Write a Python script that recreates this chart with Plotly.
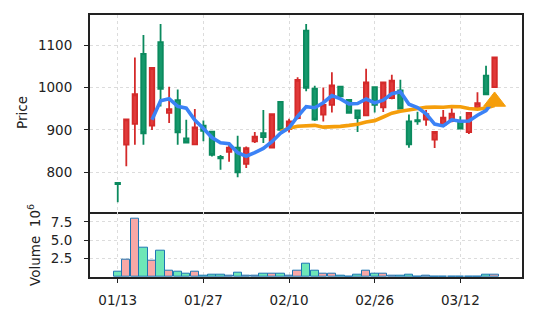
import plotly.graph_objects as go

# ---- data ----
tick_index = [0, 10, 20, 30, 40]
tick_labels = ['01/13', '01/27', '02/10', '02/26', '03/12']

opens = [775, 865, 914, 1079, 910, 1107, 940, 970, 880, 866,
         910, 896, 836, 848, 858, 820, 873, 892, 858, 966,
         902, 928, 1134, 997, 936, 959, 1002, 971, 946, 934,
         1001, 953, 975, 993, 920, 923, 924, 877, 912, 921,
         921, 895, 951, 1028, 1001]
highs = [775, 926, 1071, 1124, 1046, 1150, 1002, 995, 924, 949,
         922, 897, 841, 869, 886, 861, 895, 947, 938, 967,
         926, 1024, 1150, 1004, 1000, 1036, 1004, 972, 947, 1044,
         1003, 1013, 1030, 1018, 936, 943, 947, 896, 947, 951,
         932, 941, 989, 1051, 1072]
lows = [729, 814, 865, 865, 900, 955, 916, 865, 869, 866,
        873, 837, 806, 825, 788, 810, 869, 869, 856, 898,
        894, 925, 991, 921, 920, 941, 977, 938, 895, 932,
        941, 942, 972, 948, 858, 912, 910, 857, 910, 918,
        901, 890, 948, 983, 1000]
closes = [772, 925, 984, 892, 1046, 997, 949, 894, 870, 906,
          898, 841, 833, 858, 800, 857, 884, 883, 937, 900,
          920, 1018, 999, 924, 959, 1005, 979, 940, 928, 1012,
          959, 1012, 1016, 950, 866, 920, 937, 895, 929, 938,
          903, 940, 963, 984, 1071]
volume = [0.67, 2.4, 7.96, 4.0, 2.17, 3.59, 0.86, 0.67, 0.45, 0.67,
          0.15, 0.3, 0.3, 0.12, 0.58, 0.12, 0.12, 0.45, 0.45, 0.45,
          0.2, 0.86, 1.81, 0.86, 0.4, 0.4, 0.15, 0.05, 0.3, 0.86,
          0.4, 0.4, 0.12, 0.12, 0.3, 0.05, 0.15, 0.05, 0.04, 0.04,
          0.04, 0.04, 0.04, 0.3, 0.3]
ma5 = [None, None, None, None, 923.8, 968.8, 973.6, 955.6, 951.2, 923.2,
       903.4, 881.8, 869.6, 867.2, 846.0, 837.8, 846.4, 856.4, 872.2, 892.2,
       904.8, 931.6, 954.8, 952.2, 964.0, 981.0, 973.2, 961.4, 962.2, 972.8,
       963.6, 970.2, 985.4, 989.8, 960.6, 952.8, 937.8, 913.6, 909.4, 923.8,
       920.4, 921.0, 934.6, 945.6, 972.2]
ma20 = [None] * 19 + [896.3, 903.7, 908.4, 909.1, 910.7, 906.4, 906.8, 908.3, 910.6, 913.5,
                      918.8, 921.8, 930.4, 939.5, 944.1, 947.4, 950.6, 953.2, 953.8, 953.4,
                      955.3, 954.5, 950.6, 948.8, 951.8, 957.4]
marker_x = [44]
marker_y = [967]

x = list(range(len(closes)))

RED_LINE, RED_FILL = '#d42a2a', '#e03a3a'
GRN_LINE, GRN_FILL = '#0b8a5e', '#16996c'
VOL_RED, VOL_GRN = '#f9a8a6', '#6ee7b7'
FONT = dict(family='DejaVu Sans', size=13.5, color='#222')

fig = go.Figure()
fig.add_trace(go.Candlestick(
    x=x, open=opens, high=highs, low=lows, close=closes,
    increasing=dict(line=dict(color=RED_LINE, width=1.8), fillcolor=RED_FILL),
    decreasing=dict(line=dict(color=GRN_LINE, width=1.8), fillcolor=GRN_FILL),
    whiskerwidth=0, xaxis='x', yaxis='y', hoverinfo='skip'))
fig.add_trace(go.Scatter(x=x, y=ma20, mode='lines',
                         line=dict(color='#f59e0b', width=3.6),
                         xaxis='x', yaxis='y'))
fig.add_trace(go.Scatter(x=x, y=ma5, mode='lines',
                         line=dict(color='#3b82f6', width=3.6),
                         xaxis='x', yaxis='y'))
fig.add_trace(go.Scatter(x=marker_x, y=marker_y, mode='markers',
                         marker=dict(symbol='triangle-up', size=19, color='#f59e0b',
                                     line=dict(color='#f59e0b', width=1)),
                         xaxis='x', yaxis='y'))

vcolors = [VOL_RED if c > o else VOL_GRN for o, c in zip(opens, closes)]
fig.add_trace(go.Bar(x=x, y=volume, width=0.97,
                     marker=dict(color=vcolors, line=dict(color='#1f77b4', width=1)),
                     xaxis='x2', yaxis='y2'))

split = (277 - 211.7) / 262
grid = dict(showgrid=True, gridcolor='#dcdcdc', griddash='dot', gridwidth=1)

fig.update_layout(
    width=537, height=322,
    margin=dict(l=90, r=15, t=15, b=45),
    paper_bgcolor='white', plot_bgcolor='white',
    showlegend=False, hovermode=False,
    font=FONT, boxgap=0.25, bargap=0,
    xaxis=dict(domain=[0, 1], anchor='y', range=[-3.24, 47.2], tickvals=tick_index,
               showticklabels=False, ticks='', rangeslider=dict(visible=False),
               showline=True, linecolor='#222', linewidth=2, mirror=True, zeroline=False, **grid),
    yaxis=dict(domain=[split, 1], anchor='x', range=[707, 1171], tickvals=[800, 900, 1000, 1100],
               ticks='outside', ticklen=4, tickcolor='#222', ticklabelstandoff=9,
               showline=True, linecolor='#222', linewidth=2, mirror=True, zeroline=False, **grid),
    xaxis2=dict(domain=[0, 1], anchor='y2', range=[-3.24, 47.2], matches='x', tickvals=tick_index,
                ticktext=tick_labels, ticks='outside', ticklen=4, tickcolor='#222',
                ticklabelstandoff=6, showline=True, linecolor='#222', linewidth=2, mirror=False,
                zeroline=False, **grid),
    yaxis2=dict(domain=[0, split], anchor='x2', range=[0, 8.87], tickvals=[2.5, 5.0, 7.5],
                ticktext=['2.5', '5.0', '7.5'], ticks='outside', ticklen=4, tickcolor='#222',
                ticklabelstandoff=9, showline=True, linecolor='#222', linewidth=2, mirror=True,
                zeroline=False, **grid),
    annotations=[
        dict(text='Price', xref='paper', yref='paper', x=(22 - 90) / 432, y=(277 - 113) / 262,
             textangle=-90, showarrow=False, font=FONT, xanchor='center', yanchor='middle'),
        dict(text='Volume  10<sup>6</sup>', xref='paper', yref='paper', x=(34 - 90) / 432,
             y=(277 - 245) / 262, textangle=-90, showarrow=False, font=FONT,
             xanchor='center', yanchor='middle'),
    ],
)

fig.write_html('out.html')
